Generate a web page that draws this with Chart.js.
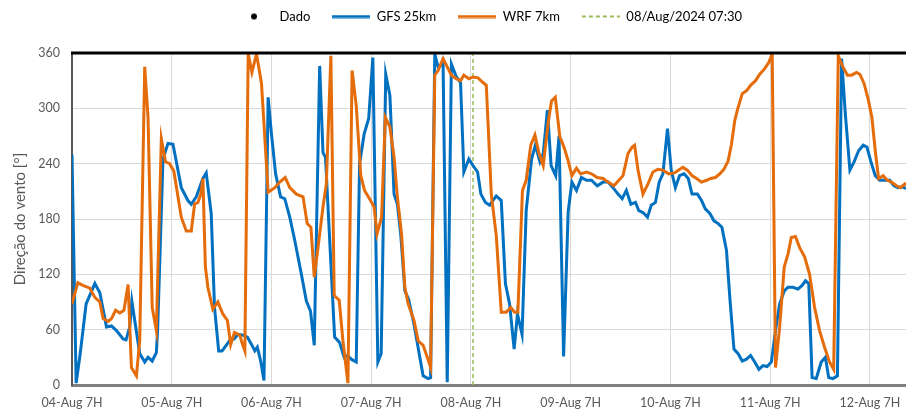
<!DOCTYPE html>
<html>
<head>
<meta charset="utf-8">
<script src="https://cdn.jsdelivr.net/npm/chart.js@4/dist/chart.umd.min.js"></script>
<style>
  body { margin: 0; background: #fff; }
  #wrap { width: 906px; height: 411px; position: relative; }
</style>
</head>
<body>
<div id="wrap"><canvas id="chart"></canvas></div>
<script>
// horas desde 04-Aug 07H
const dayLabels = ['04-Aug 7H', '05-Aug 7H', '06-Aug 7H', '07-Aug 7H', '08-Aug 7H', '09-Aug 7H', '10-Aug 7H', '11-Aug 7H', '12-Aug 7H'];
const lastHour = 200.7;
const markHour = 96.5; // 08/Aug/2024 07:30

const gfsHours = [0, 1, 2, 3.4, 5.5, 6.7, 8.3, 9.5, 10.7, 12.3, 13, 13.9, 14.4, 15.1, 16.3, 17.5, 18.3, 19.3, 20.3, 20.6,
  21.9, 23.1, 24.3, 26.3, 27.9, 28.7, 29.9, 31.5, 32.3, 33.5, 34.3, 35.3, 36.1, 37.1, 37.9, 39, 40, 41.2, 42.2, 43.2,
  44, 44.6, 45.4, 46.2, 47.2, 48, 49, 50.2, 51.2, 52.4, 53.6, 55.2, 56.4, 57.4, 58.3, 59.6, 60.4, 61, 63.2, 64.4,
  65.5, 66.3, 67.2, 68.4, 69.2, 70.3, 71.4, 72.4, 73.6, 74.4, 75.5, 76.5, 77.5, 78.3, 79.1, 80.1, 81, 82.3, 83.7, 84.5,
  85.7, 86.3, 87.3, 88.1, 89.3, 90.3, 91.3, 92.5, 93.5, 94.3, 95.5, 96.5, 97.6, 98.4, 99.5, 100.5, 102.1, 103.3, 104.3, 105.3,
  106.4, 107.2, 108.3, 109.3, 110.6, 111.5, 112.6, 113.4, 114.4, 115.3, 116.4, 117.2, 118.3, 119.4, 120.3, 121.4, 122.6, 123.8, 125, 126.4,
  127.8, 129, 130.2, 131.4, 132.4, 133.4, 134.5, 135.6, 136.4, 137.4, 138.5, 139.4, 140.4, 141.3, 142.2, 143.3, 144.2, 145.2, 146.2, 147.3,
  148.3, 149.2, 150.5, 151.5, 152.4, 153.5, 154.5, 155.5, 156.4, 157.5, 158.3, 159.3, 160.3, 161.3, 162.3, 163.3, 164.3, 165.3, 166.3, 167.3,
  168.3, 169.3, 170.3, 171.4, 172.3, 173.5, 174.7, 175.7, 176.5, 177.3, 178.1, 179.1, 180.3, 181.3, 182.1, 183.1, 184.2, 185.2, 186.1, 187.2,
  188.2, 189.3, 190.4, 191.3, 192.2, 193.3, 194.4, 195.6, 196.8, 197.8, 198.8, 199.8, 200.7];
const gfsDir = [250, 2, 35, 88, 110, 100, 63, 64, 59, 50, 49, 63, 91, 70, 34, 25, 30, 26, 35, 59,
  245, 262, 261, 214, 200, 196, 204, 224, 230, 186, 84, 37, 37, 43, 48, 50, 55, 54, 52, 44,
  37, 41, 26, 5, 312, 272, 229, 204, 202, 182, 157, 120, 91, 80, 43, 346, 252, 247, 52, 46,
  30, 32, 28, 25, 240, 272, 289, 355, 25, 34, 337, 314, 207, 196, 164, 102, 93, 66, 30, 10,
  7, 8, 359, 345, 348, 3, 348, 334, 328, 231, 245, 238, 231, 207, 198, 195, 205, 200, 110, 88,
  39, 77, 55, 189, 245, 260, 242, 251, 298, 238, 227, 270, 31, 188, 220, 211, 225, 222, 222, 216,
  220, 220, 214, 207, 202, 211, 196, 198, 189, 187, 182, 195, 198, 220, 229, 278, 233, 214, 227, 229,
  224, 207, 207, 200, 191, 186, 178, 175, 171, 146, 95, 39, 34, 26, 28, 32, 25, 17, 21, 20,
  25, 59, 88, 102, 106, 106, 104, 108, 113, 110, 8, 7, 25, 30, 8, 7, 10, 354, 294, 233,
  242, 254, 260, 258, 243, 227, 222, 222, 222, 216, 214, 215, 213];

const wrfHours = [0, 1.4, 2.6, 4.3, 5.5, 6.7, 7.5, 8.7, 9.5, 10.5, 11.5, 12.5, 13.5, 14.3, 15.5, 16.3, 17.5, 18.3, 19.3, 20.3,
  21.5, 22.5, 23.5, 24.5, 26.3, 27.5, 28.7, 29.5, 30.3, 31, 31.5, 32.1, 32.7, 33.9, 35.1, 36.3, 37.4, 38.2, 39.1, 40.4,
  40.9, 41.6, 42.4, 43.3, 44.4, 45.6, 47.2, 48.8, 50, 51.3, 52.4, 54, 55.6, 56.6, 57.5, 58.3, 59.2, 60.4, 61.2, 62.3,
  63.1, 64.3, 65.2, 66.4, 67.4, 68.4, 69.5, 70.4, 71.6, 72.7, 73.4, 74.5, 75.4, 76.5, 77.5, 78.3, 79.3, 80.1, 80.9, 82.3,
  83.3, 84.5, 85.5, 86.3, 87.3, 88.1, 89.3, 90.3, 91.3, 92.5, 93.5, 94.3, 95.5, 96.5, 97.7, 98.9, 99.7, 100.9, 102.1, 103.3,
  104.5, 105.6, 106.5, 107.3, 108.4, 109.3, 110.4, 111.4, 112.4, 113.4, 114.6, 115.4, 116.3, 117.4, 118.4, 119.4, 120.3, 121.4, 122.4, 123.8,
  125, 126.4, 127.8, 129, 130.4, 131.6, 132.6, 133.8, 134.8, 135.4, 136.2, 137.4, 138.6, 139.8, 141, 142.2, 143.6, 145, 146, 147,
  148.1, 149.2, 150.3, 151.5, 152.7, 153.7, 154.8, 155.9, 156.9, 157.9, 158.7, 159.5, 160.3, 161.3, 162.3, 163.3, 164.5, 165.5, 166.7, 167.7,
  168.5, 169.3, 170.3, 171.4, 172.3, 173.1, 174.1, 175.1, 176.3, 177.5, 178.7, 179.9, 181.1, 182.3, 183.3, 184.4, 185.4, 186.6, 187.6, 188.8,
  189.6, 190.6, 191.6, 192.5, 193.3, 194.1, 195.2, 196.2, 197.2, 198.4, 199.4, 200.4, 200.7];
const wrfDir = [88, 111, 108, 105, 95, 90, 72, 69, 72, 81, 78, 81, 109, 19, 10, 48, 345, 290, 84, 59,
  267, 242, 240, 232, 182, 167, 167, 196, 198, 207, 224, 128, 106, 82, 90, 77, 70, 44, 57, 54,
  46, 37, 359, 339, 359, 327, 209, 214, 220, 225, 214, 207, 204, 175, 171, 117, 149, 193, 218, 357,
  97, 92, 48, 2, 341, 303, 227, 211, 202, 193, 164, 182, 290, 280, 247, 204, 164, 106, 88, 70,
  48, 43, 30, 19, 336, 341, 354, 345, 336, 332, 330, 336, 332, 334, 333, 328, 325, 207, 162, 79,
  79, 84, 79, 79, 211, 222, 260, 271, 251, 238, 285, 308, 312, 269, 258, 243, 227, 235, 229, 231,
  229, 225, 224, 220, 216, 222, 227, 251, 258, 260, 233, 207, 218, 231, 234, 233, 229, 230, 233, 236,
  233, 227, 224, 220, 222, 224, 225, 229, 234, 243, 261, 287, 301, 316, 319, 325, 330, 337, 343, 350,
  359, 19, 63, 128, 142, 160, 161, 149, 139, 120, 84, 59, 41, 25, 17, 357, 346, 336, 336, 339,
  337, 327, 310, 290, 254, 224, 227, 222, 220, 216, 214, 218, 216];

function pairs(xs, ys) {
  return xs.map((x, i) => ({ x: x, y: ys[i] }));
}

// simbolos da legenda (linha / ponto)
function legendSymbol(ds) {
  const c = document.createElement('canvas');
  const g = c.getContext('2d');
  if (ds.showLine === false) {
    c.width = 8; c.height = 8;
    g.fillStyle = '#000';
    g.beginPath(); g.arc(4, 4, 3, 0, Math.PI * 2); g.fill();
    return c;
  }
  c.width = 38; c.height = 4;
  g.strokeStyle = ds.borderColor;
  g.lineWidth = ds.borderDash ? 2 : 3;
  if (ds.borderDash) g.setLineDash(ds.borderDash);
  g.beginPath(); g.moveTo(0, 2); g.lineTo(38, 2); g.stroke();
  return c;
}

const frame = {
  id: 'frame',
  afterInit(chart) {
    const fit = chart.legend.fit;
    chart.legend.fit = function () { fit.call(this); this.height = 53; };
  },
  afterLayout(chart) {
    chart.legend.left = 213;
    chart.legend.top = -12;
  },
  afterDatasetsDraw(chart) {
    const a = chart.chartArea, ctx = chart.ctx;
    ctx.save();
    ctx.strokeStyle = '#000';
    ctx.lineWidth = 3;
    ctx.beginPath(); ctx.moveTo(a.left - 1, a.top); ctx.lineTo(a.right, a.top); ctx.stroke();
    ctx.restore();
  }
};

const tickFont = { family: 'Lato', size: 12.5 };

new Chart(document.getElementById('chart'), {
  type: 'line',
  data: {
    datasets: [
      { label: 'Dado', data: [], showLine: false, pointRadius: 3, backgroundColor: '#000', borderColor: '#000' },
      { label: 'GFS 25km', data: pairs(gfsHours, gfsDir), borderColor: '#0070C0', borderWidth: 3, pointRadius: 0, order: 2 },
      { label: 'WRF 7km', data: pairs(wrfHours, wrfDir), borderColor: '#E46C0A', borderWidth: 3, pointRadius: 0, order: 1 },
      { label: '08/Aug/2024 07:30', data: [{ x: markHour, y: 0 }, { x: markHour, y: 360 }], borderColor: '#9BBB59',
        borderWidth: 1.5, borderDash: [4, 3], pointRadius: 0, order: 3 }
    ]
  },
  options: {
    responsive: true,
    maintainAspectRatio: false,
    animation: false,
    layout: { padding: 0 },
    plugins: {
      tooltip: { enabled: false },
      legend: {
        align: 'start',
        labels: {
          usePointStyle: true,
          pointStyleWidth: 38,
          padding: 22,
          color: '#000',
          font: { family: 'Lato', size: 13 },
          sort: (a, b) => a.datasetIndex - b.datasetIndex,
          generateLabels(chart) {
            return chart.data.datasets.map((ds, i) => ({
              text: ds.label, datasetIndex: i, pointStyle: legendSymbol(ds),
              fillStyle: 'transparent', strokeStyle: 'transparent', lineWidth: 0, hidden: false, fontColor: '#000'
            }));
          }
        }
      }
    },
    scales: {
      x: {
        type: 'linear',
        min: 0,
        max: lastHour,
        afterBuildTicks: s => { s.ticks = dayLabels.map((l, i) => ({ value: i * 24 })); },
        afterFit: s => { s.height = 26; s.paddingRight = 0; s.paddingLeft = 0; },
        ticks: { callback: (v) => dayLabels[Math.round(v / 24)], color: '#595959', font: tickFont, padding: 10, maxRotation: 0, autoSkip: false },
        grid: { color: '#D9D9D9', drawTicks: false },
        border: { color: '#7F7F7F', width: 3 }
      },
      y: {
        min: 0,
        max: 360,
        afterFit: s => { s.width = 72; },
        ticks: { stepSize: 60, color: '#595959', font: tickFont, padding: 12 },
        grid: { color: '#D9D9D9', drawTicks: false },
        border: { color: '#595959', width: 2 },
        title: { display: true, text: 'Direção do vento [°]', color: '#595959', font: { family: 'Lato', size: 15 }, padding: { top: 11, bottom: 0 } }
      }
    }
  },
  plugins: [frame]
});
</script>
</body>
</html>
